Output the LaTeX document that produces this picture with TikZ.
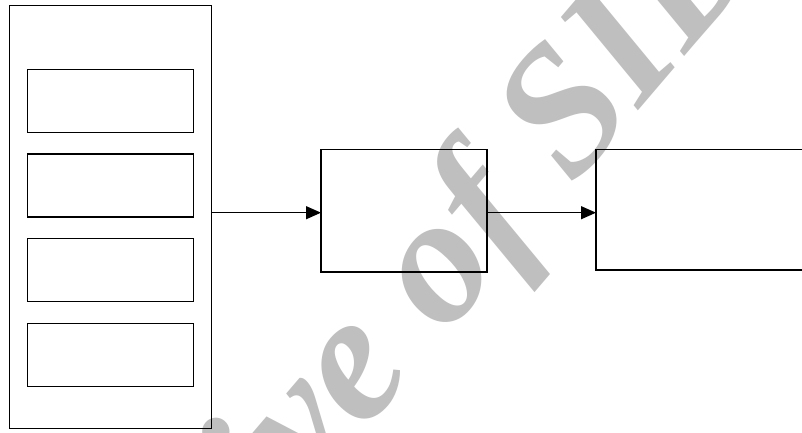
\documentclass[tikz,border=0pt]{standalone}
\usepackage{fontspec}
\newfontfamily\wmfont{Liberation Serif}
\usetikzlibrary{arrows.meta}
\tikzset{
  box/.style={draw=black, line width=1.2pt, rectangle, inner sep=0pt, outer sep=0pt},
  inner/.style={box, minimum width=165.6pt, minimum height=63pt},
  arr/.style={draw=black, line width=1.2pt, -{Triangle[length=15pt,width=13pt]}},
  watermark/.style={text=black!25, font=\wmfont\bfseries\itshape\fontsize{182}{182}\selectfont, inner sep=0pt}
}
\begin{document}
\begin{tikzpicture}[x=1pt,y=1pt]
\useasboundingbox (0,0) rectangle (802,432);
\clip (0,0) rectangle (802,432);
\fill[white] (0,0) rectangle (802,432);
\node[watermark, rotate=49.5, anchor=base west] (wm) at (35.4,-385) {Archive of SID};
\node[box, minimum width=202pt, minimum height=422.6pt] (outer) at (110.3,215) {};
\node[inner] (b1) at (110.5,331) {};
\node[inner] (b2) at (110.5,246.5) {};
\node[inner] (b3) at (110.5,162) {};
\node[inner] (b4) at (110.5,77) {};
\node[box, minimum width=166pt, minimum height=122.7pt] (mid) at (404,221.3) {};
\node[box, minimum width=240pt, minimum height=120.7pt] (right) at (716,222.3) {};
\coordinate (ay) at (0,219.3);
\draw[arr] (outer.east |- ay) -- (mid.west |- ay);
\draw[arr] (mid.east |- ay) -- (right.west |- ay);
\end{tikzpicture}
\end{document}
